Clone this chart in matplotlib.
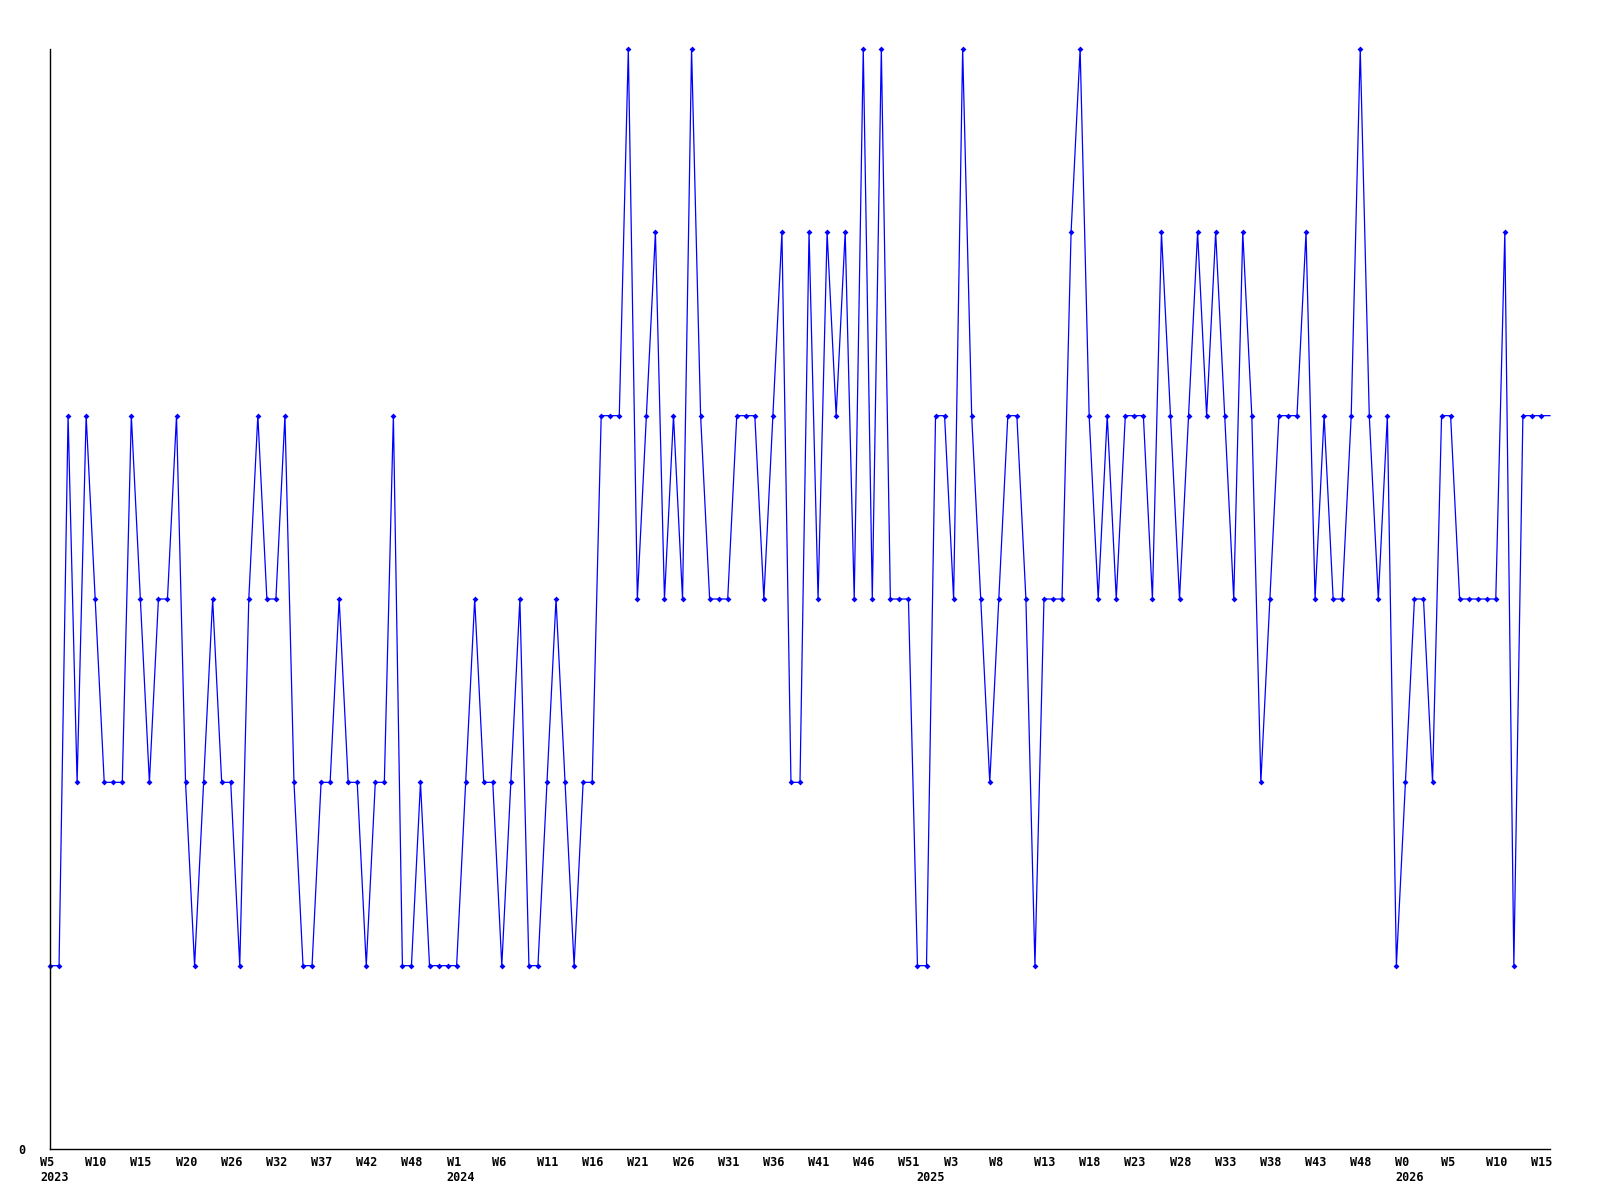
import matplotlib
matplotlib.use("Agg")
import matplotlib.pyplot as plt
from matplotlib.transforms import ScaledTranslation

# weekly values, one per point
values = [1, 1, 4, 2, 4, 3, 2, 2, 2, 4,
          3, 2, 3, 3, 4, 2, 1, 2, 3, 2,
          2, 1, 3, 4, 3, 3, 4, 2, 1, 1,
          2, 2, 3, 2, 2, 1, 2, 2, 4, 1,
          1, 2, 1, 1, 1, 1, 2, 3, 2, 2,
          1, 2, 3, 1, 1, 2, 3, 2, 1, 2,
          2, 4, 4, 4, 6, 3, 4, 5, 3, 4,
          3, 6, 4, 3, 3, 3, 4, 4, 4, 3,
          4, 5, 2, 2, 5, 3, 5, 4, 5, 3,
          6, 3, 6, 3, 3, 3, 1, 1, 4, 4,
          3, 6, 4, 3, 2, 3, 4, 4, 3, 1,
          3, 3, 3, 5, 6, 4, 3, 4, 3, 4,
          4, 4, 3, 5, 4, 3, 4, 5, 4, 5,
          4, 3, 5, 4, 2, 3, 4, 4, 4, 5,
          3, 4, 3, 3, 4, 6, 4, 3, 4, 1,
          2, 3, 3, 2, 4, 4, 3, 3, 3, 3,
          3, 5, 1, 4, 4, 4, 4]

# week labels every 5th point
week_labels = ["W5", "W10", "W15", "W20", "W26", "W32", "W37", "W42", "W48",
               "W1", "W6", "W11", "W16", "W21", "W26", "W31", "W36", "W41", "W46", "W51",
               "W3", "W8", "W13", "W18", "W23", "W28", "W33", "W38", "W43", "W48",
               "W0", "W5", "W10", "W15"]
year_labels = ["2023", "2024", "2025", "2026"]
year_pos = [0, 45, 97, 150]

x = list(range(len(values)))

fig = plt.figure(figsize=(16, 12), dpi=100)
ax = fig.add_axes([50 / 1600, 51 / 1200, 1500 / 1600, 1100 / 1200])

ax.plot(x, values, color="#0000ff", linewidth=0.9, marker="D", markersize=3,
        markeredgewidth=0, markevery=list(range(len(values) - 1)), clip_on=False)

ax.set_xlim(0, len(values) - 1)
ax.set_ylim(0, 6)

for s in ["top", "right"]:
    ax.spines[s].set_visible(False)
ax.spines["left"].set_linewidth(1)
ax.spines["bottom"].set_linewidth(1)

font = dict(family="DejaVu Sans Mono", weight="bold", size=8.5)

ax.set_yticks([0])
ax.set_yticklabels(["0"], **font)
ax.tick_params(axis="y", length=0, pad=18)

# year labels sit on minor ticks, one row lower than the week labels
ax.xaxis.remove_overlapping_locs = False
ax.set_xticks(x[::5][:len(week_labels)])
ax.set_xticklabels(week_labels, ha="left", **font)
ax.set_xticks(year_pos, minor=True)
ax.set_xticklabels(year_labels, minor=True, ha="left", **font)
ax.tick_params(axis="x", which="major", length=0, pad=5)
ax.tick_params(axis="x", which="minor", length=0, pad=16)

shift = ScaledTranslation(-10 / 100, 0, fig.dpi_scale_trans)
for lab in ax.get_xticklabels() + ax.get_xticklabels(minor=True):
    lab.set_transform(lab.get_transform() + shift)

plt.savefig("out.png", dpi=100)
